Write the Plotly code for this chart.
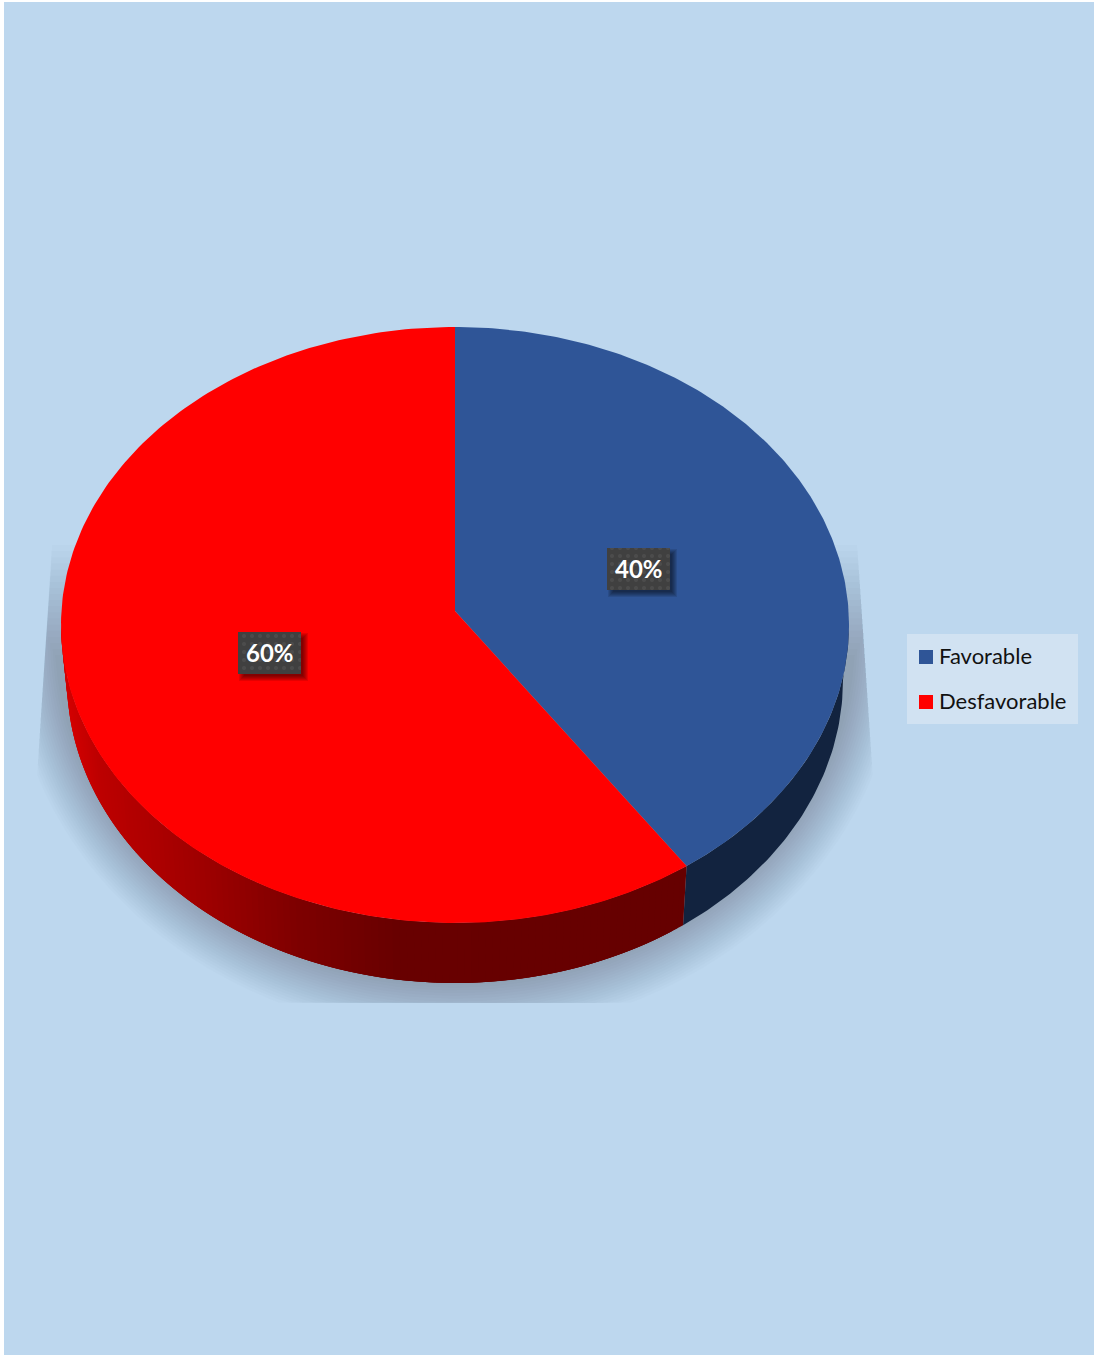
import numpy as np
import plotly.graph_objects as go

# Survey result shares
categories = ["Favorable", "Desfavorable"]
shares = [40, 60]
share_labels = ["40%", "60%"]
label_x = [638.5, 269.5]
label_y = [569, 653]

top_colors = ["#2F5597", "#FF0000"]

WIDTH, HEIGHT = 1094, 1355
# Disc geometry in pixel-like axis units: the lower rim is slightly narrower and the
# wedge apex sits above the ellipse centre, as in a perspective view
TOP = dict(cx=455, cy=625, rx=394, ry=298)
BOTTOM = dict(cx=455, cy=680, rx=388, ry=303)
APEX_Y = 611


def ellipse_points(e, angles):
    """Angles are clockwise from twelve o'clock, in radians."""
    return e["cx"] + e["rx"] * np.sin(angles), e["cy"] - e["ry"] * np.cos(angles)


def hex_rgb(c):
    return [int(c[i:i + 2], 16) for i in (1, 3, 5)]


def side_color(x, stops_x, stops_c):
    rgb = [np.interp(x, stops_x, [hex_rgb(c)[k] for c in stops_c]) for k in range(3)]
    return "rgb({:.0f},{:.0f},{:.0f})".format(*rgb)


def polygon(x, y, color, lw=0):
    return go.Scatter(x=list(x), y=list(y), mode="lines", fill="toself", fillcolor=color,
                      line=dict(width=lw, color=color), hoverinfo="skip", showlegend=False)


fig = go.Figure()

# Soft drop shadow: stacked translucent ellipses limited to a widening band
band_top, band_bottom = 540, 806
for s in np.linspace(0, 1, 19):
    t = np.linspace(0, 2 * np.pi, 240)
    e = dict(cx=455, cy=640, rx=445 - 45 * s, ry=395 - 50 * s)
    sx, sy = ellipse_points(e, t)
    frac = np.clip((sy - band_top) / (band_bottom - band_top), None, 1)
    sx = np.clip(sx, 52 - 17 * frac, 857 + 18 * frac)
    sy = np.clip(sy, 545 + 110 * s, 1003)
    fig.add_trace(polygon(sx, sy, "rgba(0,0,0,0.01)"))

# Rim of the disc along the front edge
fractions = np.cumsum([0] + shares) / sum(shares)
cuts = fractions * 2 * np.pi
rim_dark = "#12233F"
red_x = [65, 100, 200, 300, 400, 690]
red_c = ["#D40000", "#BC0000", "#A00000", "#7E0000", "#680000", "#660000"]

t_blue = np.linspace(np.pi / 2, cuts[1], 60)
xt, yt = ellipse_points(TOP, t_blue)
xb, yb = ellipse_points(BOTTOM, t_blue)
fig.add_trace(polygon(np.r_[xt, xb[::-1]], np.r_[yt, yb[::-1]], rim_dark))

# Overlapping strips give the red rim a seamless gradient
edges = np.linspace(cuts[1], 3 * np.pi / 2, 121)
for i in range(len(edges) - 1):
    t = np.linspace(edges[i], edges[min(i + 3, len(edges) - 1)], 4)
    xt, yt = ellipse_points(TOP, t)
    xb, yb = ellipse_points(BOTTOM, t)
    col = side_color(xt[0], red_x, red_c)
    fig.add_trace(polygon(np.r_[xt, xb[::-1]], np.r_[yt, yb[::-1]], col))

# Upper face: one wedge per category
for i, color in enumerate(top_colors):
    t = np.linspace(cuts[i], cuts[i + 1], 240)
    x, y = ellipse_points(TOP, t)
    fig.add_trace(polygon(np.r_[TOP["cx"], x, TOP["cx"]], np.r_[APEX_Y, y, APEX_Y], color))

# Value labels: dotted dark plate with a small shadow and white text
BOX_W, BOX_H = 63, 42
for lx, ly, text in zip(label_x, label_y, share_labels):
    x0, x1, y0, y1 = lx - BOX_W / 2, lx + BOX_W / 2, ly - BOX_H / 2, ly + BOX_H / 2
    for d in (3, 2, 1, 0, -1, -2):
        fig.add_trace(polygon([x0 + 4 - d, x1 + 4 + d, x1 + 4 + d, x0 + 4 - d, x0 + 4 - d],
                              [y0 + 4 - d, y0 + 4 - d, y1 + 4 + d, y1 + 4 + d, y0 + 4 - d],
                              "rgba(0,0,0,0.1)"))
    fig.add_trace(go.Scatter(x=[x0, x1, x1, x0, x0], y=[y0, y0, y1, y1, y0], mode="lines", fill="toself",
                             fillcolor="#404040", line=dict(width=0, color="#404040"),
                             fillpattern=dict(shape=".", bgcolor="#404040", fgcolor="#585858",
                                              size=8, solidity=0.2),
                             hoverinfo="skip", showlegend=False))
    fig.add_annotation(x=lx, y=ly - 1, text=f"<b>{text}</b>", showarrow=False,
                       font=dict(family="Lato", size=24, color="#FFFFFF"))

# Key: one square and name per category, on a pale plate
key_x = [926, 926]
key_y = [657, 702]
fig.add_trace(go.Scatter(x=key_x, y=key_y, mode="markers",
                         marker=dict(symbol="square", size=14, color=top_colors),
                         hoverinfo="skip", showlegend=False))
for ky, name in zip(key_y, categories):
    fig.add_annotation(x=937, y=ky - 2, text=name, showarrow=False, xanchor="left",
                       font=dict(family="Lato", size=22, color="#111111"))

fig.update_layout(
    width=WIDTH, height=HEIGHT, margin=dict(l=0, r=0, t=0, b=0), autosize=False,
    paper_bgcolor="#FFFFFF", plot_bgcolor="#FFFFFF", showlegend=False,
    xaxis=dict(range=[0, WIDTH], visible=False, fixedrange=True),
    yaxis=dict(range=[HEIGHT, 0], visible=False, fixedrange=True),
    shapes=[
        dict(type="rect", xref="x", yref="y", x0=4, x1=WIDTH, y0=2, y1=HEIGHT, layer="below",
             fillcolor="#BDD7EE", line_width=0),
        dict(type="rect", xref="x", yref="y", x0=907, x1=1078, y0=634, y1=724, layer="below",
             fillcolor="#D1E2F2", line_width=0),
    ],
)

fig.write_html("out.html", config=dict(displayModeBar=False))
